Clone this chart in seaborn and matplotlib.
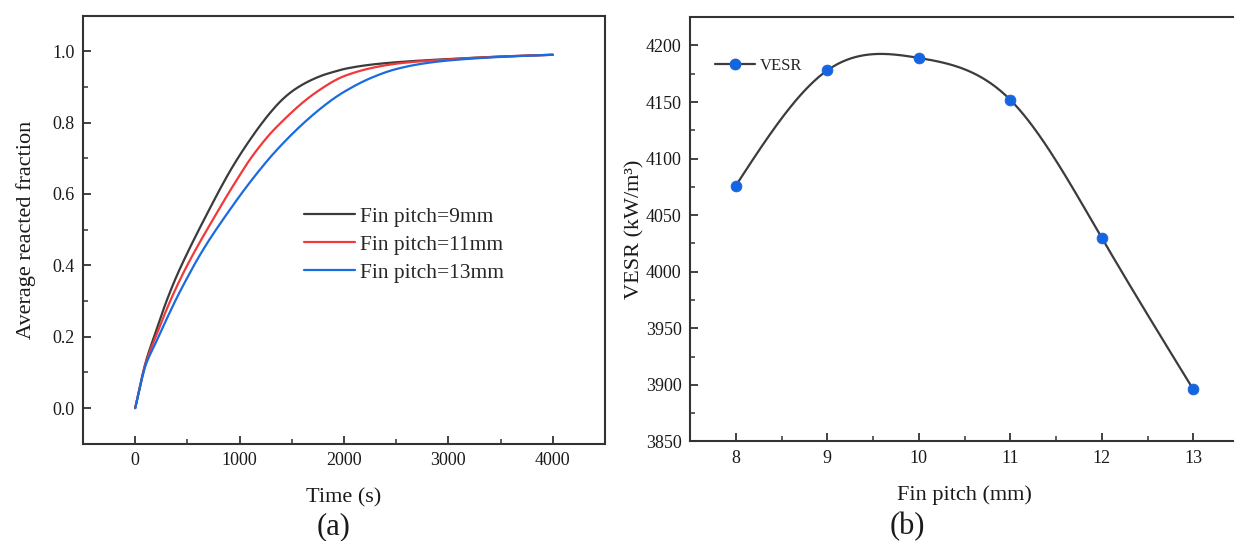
import numpy as np
import pandas as pd
import matplotlib
matplotlib.use("Agg")
import matplotlib.pyplot as plt
from matplotlib.lines import Line2D
from matplotlib.ticker import MultipleLocator, FixedLocator
import seaborn as sns

# ---------------- data ----------------
# (a) average reacted fraction vs time for three fin pitches
time_s = [0, 100, 200, 300, 400, 500, 600, 700, 800, 900, 1000, 1100, 1200,
          1300, 1400, 1500, 1600, 1700, 1800, 1900, 2000, 2250, 2500, 2750,
          3000, 3500, 4000]
frac_9mm = [0.000, 0.128, 0.216, 0.300, 0.372, 0.435, 0.494, 0.551, 0.607,
            0.660, 0.708, 0.752, 0.793, 0.830, 0.862, 0.887, 0.906, 0.921,
            0.933, 0.942, 0.950, 0.962, 0.969, 0.974, 0.978, 0.985, 0.990]
frac_11mm = [0.000, 0.125, 0.202, 0.276, 0.342, 0.401, 0.455, 0.506, 0.556,
             0.605, 0.652, 0.697, 0.736, 0.771, 0.801, 0.829, 0.855, 0.878,
             0.898, 0.916, 0.930, 0.952, 0.965, 0.972, 0.977, 0.985, 0.990]
frac_13mm = [0.000, 0.120, 0.185, 0.249, 0.310, 0.366, 0.419, 0.467, 0.511,
             0.553, 0.594, 0.633, 0.670, 0.705, 0.737, 0.767, 0.795, 0.821,
             0.845, 0.867, 0.886, 0.924, 0.950, 0.965, 0.974, 0.984, 0.990]
series_labels = ["Fin pitch=9mm", "Fin pitch=11mm", "Fin pitch=13mm"]

# (b) volumetric energy storage rate vs fin pitch
fin_pitch_mm = [8, 9, 10, 11, 12, 13]
vesr_kw_m3 = [4076, 4178, 4189, 4152, 4030, 3896]

# ---------------- style ----------------
sns.set_theme(style="ticks")
plt.rcParams["font.family"] = ["Liberation Serif", "DejaVu Serif"]
plt.rcParams["axes.edgecolor"] = "#333333"
plt.rcParams["axes.linewidth"] = 1.5
plt.rcParams["xtick.color"] = "#333333"
plt.rcParams["ytick.color"] = "#333333"
plt.rcParams["xtick.labelcolor"] = "#1a1a1a"
plt.rcParams["ytick.labelcolor"] = "#1a1a1a"

TEXT = "#1a1a1a"
colors = ["#3b3b3b", "#f03a3a", "#1a6be0"]
marker_blue = "#1565e0"

fig = plt.figure(figsize=(12.34, 5.41), dpi=100)
ax1 = fig.add_axes([83 / 1234, 1 - 443.8 / 541, 522 / 1234, 428.3 / 541])
ax2 = fig.add_axes([690 / 1234, 1 - 441.4 / 541, 549 / 1234, 424.2 / 541])


def style_ticks(ax):
    ax.tick_params(axis="both", which="major", direction="in", length=6,
                   width=1.3, labelsize=13, pad=6)
    ax.tick_params(axis="both", which="minor", direction="in", length=3.5,
                   width=1.1)
    for s in ax.spines.values():
        s.set_visible(True)
        s.set_linewidth(1.5)
        s.set_color("#333333")


def pchip(x, y, xs):
    """Monotone piecewise cubic (Fritsch-Carlson) through the given points."""
    x = np.asarray(x, float)
    y = np.asarray(y, float)
    h = np.diff(x)
    d = np.diff(y) / h
    m = np.zeros_like(y)
    for k in range(1, len(x) - 1):
        if d[k - 1] * d[k] > 0:
            w1 = 2 * h[k] + h[k - 1]
            w2 = h[k] + 2 * h[k - 1]
            m[k] = (w1 + w2) / (w1 / d[k - 1] + w2 / d[k])
    m[0] = d[0]
    m[-1] = d[-1]
    idx = np.clip(np.searchsorted(x, xs) - 1, 0, len(x) - 2)
    hk = h[idx]
    t = (xs - x[idx]) / hk
    h00 = 2 * t ** 3 - 3 * t ** 2 + 1
    h10 = t ** 3 - 2 * t ** 2 + t
    h01 = -2 * t ** 3 + 3 * t ** 2
    h11 = t ** 3 - t ** 2
    return (h00 * y[idx] + h10 * hk * m[idx] + h01 * y[idx + 1]
            + h11 * hk * m[idx + 1])


def natural_cubic_spline(x, y, xs):
    x = np.asarray(x, float)
    y = np.asarray(y, float)
    n = len(x)
    h = np.diff(x)
    A = np.zeros((n, n))
    b = np.zeros(n)
    A[0, 0] = A[-1, -1] = 1.0
    for i in range(1, n - 1):
        A[i, i - 1] = h[i - 1]
        A[i, i] = 2 * (h[i - 1] + h[i])
        A[i, i + 1] = h[i]
        b[i] = 6 * ((y[i + 1] - y[i]) / h[i] - (y[i] - y[i - 1]) / h[i - 1])
    M = np.linalg.solve(A, b)
    idx = np.clip(np.searchsorted(x, xs) - 1, 0, n - 2)
    x0, x1 = x[idx], x[idx + 1]
    hh = x1 - x0
    t0, t1 = x1 - xs, xs - x0
    return (M[idx] * t0 ** 3 / (6 * hh) + M[idx + 1] * t1 ** 3 / (6 * hh)
            + (y[idx] / hh - M[idx] * hh / 6) * t0
            + (y[idx + 1] / hh - M[idx + 1] * hh / 6) * t1)


# ---------------- (a) ----------------
t_fine = np.linspace(time_s[0], time_s[-1], 801)
frames = []
for lab, vals in zip(series_labels, [frac_9mm, frac_11mm, frac_13mm]):
    frames.append(pd.DataFrame({"Time": t_fine,
                                "Fraction": pchip(time_s, vals, t_fine),
                                "Series": lab}))
long_df = pd.concat(frames, ignore_index=True)
sns.lineplot(data=long_df, x="Time", y="Fraction", hue="Series",
             palette=dict(zip(series_labels, colors)), linewidth=1.6,
             ax=ax1, legend=False)

ax1.set_xlim(-500, 4500)
ax1.set_ylim(-0.1, 1.1)
ax1.xaxis.set_major_locator(FixedLocator([0, 1000, 2000, 3000, 4000]))
ax1.xaxis.set_minor_locator(FixedLocator([500, 1500, 2500, 3500]))
ax1.yaxis.set_major_locator(FixedLocator([0.0, 0.2, 0.4, 0.6, 0.8, 1.0]))
ax1.yaxis.set_minor_locator(FixedLocator([0.1, 0.3, 0.5, 0.7, 0.9]))
ax1.set_yticklabels(["0.0", "0.2", "0.4", "0.6", "0.8", "1.0"])
style_ticks(ax1)
ax1.set_xlabel("Time (s)", fontsize=16, color=TEXT, labelpad=13.5)
ax1.set_ylabel("Average reacted fraction", fontsize=16, color=TEXT, labelpad=12)

handles_a = [Line2D([], [], color=c, lw=1.6) for c in colors]
ax1.legend(handles_a, series_labels, loc="upper left",
           bbox_to_anchor=(0.4234, 0.553), frameon=False, fontsize=15.5,
           borderpad=0, borderaxespad=0, handlelength=2.37,
           handletextpad=0.25, labelspacing=0.36)

# ---------------- (b) ----------------
xs = np.linspace(min(fin_pitch_mm), max(fin_pitch_mm), 300)
smooth_df = pd.DataFrame({"Pitch": xs,
                          "VESR": natural_cubic_spline(fin_pitch_mm, vesr_kw_m3, xs)})
point_df = pd.DataFrame({"Pitch": fin_pitch_mm, "VESR": vesr_kw_m3})

sns.lineplot(data=smooth_df, x="Pitch", y="VESR", color="#3c3c3c",
             linewidth=1.6, ax=ax2, legend=False)
sns.scatterplot(data=point_df, x="Pitch", y="VESR", color=marker_blue,
                edgecolor=marker_blue, s=60, ax=ax2, legend=False, zorder=3)

ax2.set_xlim(7.5, 13.5)
ax2.set_ylim(3850, 4225)
ax2.xaxis.set_major_locator(MultipleLocator(1))
ax2.xaxis.set_minor_locator(FixedLocator([8.5, 9.5, 10.5, 11.5, 12.5]))
ax2.yaxis.set_major_locator(FixedLocator(list(range(3850, 4201, 50))))
ax2.yaxis.set_minor_locator(FixedLocator(list(range(3875, 4200, 50))))
style_ticks(ax2)
ax2.set_xlabel("Fin pitch (mm)", fontsize=16, color=TEXT, labelpad=13.5)
ax2.set_ylabel("VESR (kW/m³)", fontsize=16, color=TEXT, labelpad=0.5)

handle_b = Line2D([], [], color="#3c3c3c", lw=1.6, marker="o", ms=7.5,
                  mfc=marker_blue, mec=marker_blue)
ax2.legend([handle_b], ["VESR"], loc="upper left",
           bbox_to_anchor=(0.0455, 0.904), frameon=False, fontsize=12,
           borderpad=0, borderaxespad=0, handlelength=2.4,
           handletextpad=0.3, numpoints=1)

# panel labels
fig.text(334 / 1234, 1 - 527 / 541, "(a)", fontsize=22, ha="center",
         va="center", color=TEXT)
fig.text(907 / 1234, 1 - 527 / 541, "(b)", fontsize=22, ha="center",
         va="center", color=TEXT)

fig.savefig("out.png", dpi=100, facecolor="white")
